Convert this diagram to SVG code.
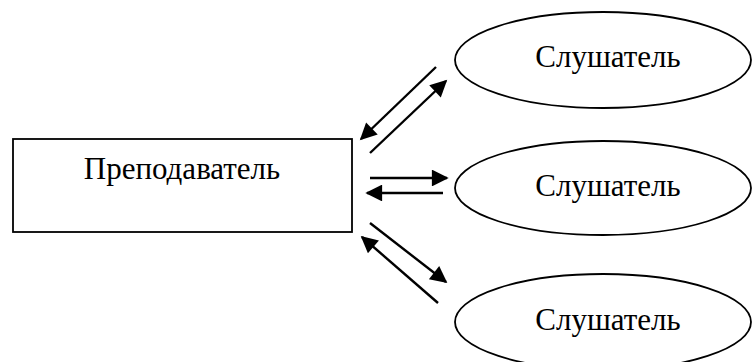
<svg xmlns="http://www.w3.org/2000/svg" width="752" height="362" viewBox="0 0 752 362">
  <style>
    .shape { fill: #fff; stroke: #000; stroke-width: 1.8; }
    .label { font-family: "Liberation Serif", "Times New Roman", serif; font-size: 31px; fill: #000; text-anchor: middle; }
    .link { stroke: #000; stroke-width: 2.4; fill: none; marker-end: url(#head); }
  </style>
  <defs>
    <marker id="head" viewBox="0 0 10 10" refX="9" refY="5" markerWidth="8" markerHeight="7" orient="auto" markerUnits="strokeWidth">
      <path d="M0,0 L10,5 L0,10 z" fill="#000"/>
    </marker>
  </defs>
  <rect width="752" height="362" fill="#fff"/>

  <g id="teacher">
    <rect class="shape" x="13" y="139" width="339" height="93"/>
    <text class="label" x="182" y="179">Преподаватель</text>
  </g>

  <g id="listener-1">
    <ellipse class="shape" cx="603" cy="60" rx="148" ry="48"/>
    <text class="label" x="608" y="67">Слушатель</text>
  </g>

  <g id="listener-2">
    <ellipse class="shape" cx="603" cy="188" rx="148" ry="47"/>
    <text class="label" x="608" y="196">Слушатель</text>
  </g>

  <g id="listener-3">
    <ellipse class="shape" cx="603" cy="322" rx="148" ry="48"/>
    <text class="label" x="608" y="330">Слушатель</text>
  </g>

  <g id="connectors">
    <line class="link" x1="436" y1="67" x2="361" y2="139"/>
    <line class="link" x1="370" y1="153" x2="446" y2="81"/>
    <line class="link" x1="370" y1="178" x2="447" y2="178"/>
    <line class="link" x1="443" y1="193" x2="367" y2="193"/>
    <line class="link" x1="370" y1="223" x2="446" y2="282"/>
    <line class="link" x1="438" y1="303" x2="362" y2="237"/>
  </g>
</svg>
